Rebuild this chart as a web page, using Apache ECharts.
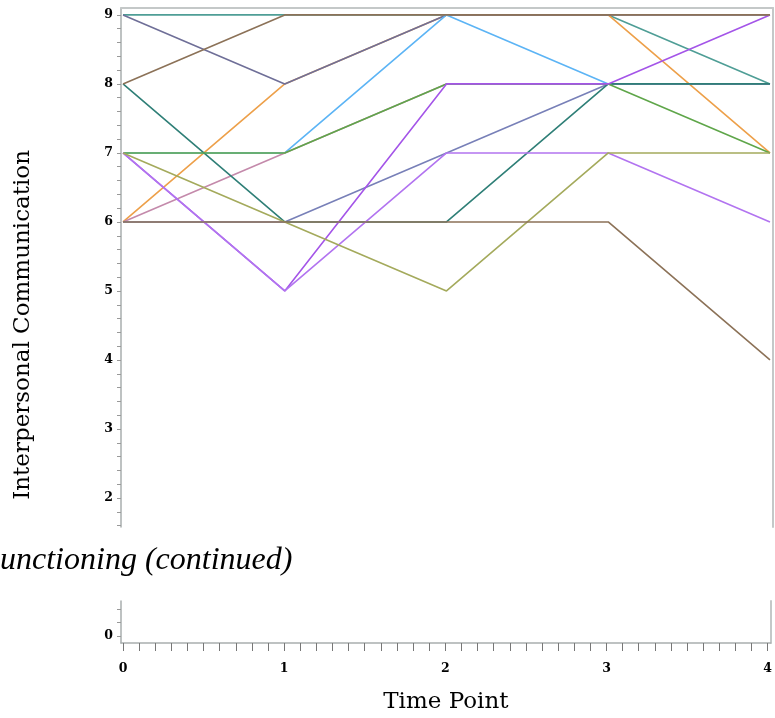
<!DOCTYPE html>
<html>
<head>
<meta charset="utf-8">
<script src="https://cdn.jsdelivr.net/npm/echarts@6/dist/echarts.min.js"></script>
<style>
html,body{margin:0;padding:0;background:#fff;}
#chart{width:775px;height:718px;}
</style>
</head>
<body>
<div id="chart"></div>
<script>
// Time points (x categories as numbers)
const timePoints = [0, 1, 2, 3, 4];
// Subject trajectories (Interpersonal Communication at each time point)
const subjTealA   = [9, 9, 9, 9, 8];
const subjOrange  = [6, 8, 9, 9, 7];
const subjSlateA  = [9, 8, 9, 9, 9];
const subjLtBlue  = [7, 7, 9, 8, 8];
const subjPink    = [6, 7, 8, 8, 8];
const subjSlateB  = [6, 6, 7, 8, 8];
const subjTealB   = [8, 6, 6, 8, 8];
const subjGreen   = [7, 7, 8, 8, 7];
const subjPurpleA = [7, 5, 8, 8, 9];
const subjPurpleB = [7, 5, 7, 7, 6];
const subjOlive   = [7, 6, 5, 7, 7];
const subjBrownB  = [6, 6, 6, 6, 4];
const subjBrownA  = [8, 9, 9, 9, 9];

// Tick labels
const xTickLabels = [0, 1, 2, 3, 4];
const yTickLabelsTop = [2, 3, 4, 5, 6, 7, 8, 9];
const yTickLabelsBottom = [0];

const subjects = [
  {d: subjTealA,   c: '#4f9e96'},
  {d: subjOrange,  c: '#eda04a'},
  {d: subjSlateA,  c: '#6f6f98'},
  {d: subjLtBlue,  c: '#5cb4f5'},
  {d: subjPink,    c: '#c48aab'},
  {d: subjSlateB,  c: '#7880b8'},
  {d: subjTealB,   c: '#2f7f77'},
  {d: subjGreen,   c: '#5fa64a'},
  {d: subjPurpleA, c: '#a455e8'},
  {d: subjPurpleB, c: '#b274f0'},
  {d: subjOlive,   c: '#a4aa5c'},
  {d: subjBrownB,  c: '#8c7258'},
  {d: subjBrownA,  c: '#8c7258'}
];

function steps(a, b, s) {
  const out = [];
  const n = Math.round((b - a) / s);
  for (let i = 0; i <= n; i++) out.push(+(a + i * s).toFixed(4));
  return out;
}
const yTicksTop = steps(1.6, 9.0, 0.2);
const yTicksBottom = steps(0, 0.4, 0.2);
const xTicksBottom = steps(0, 4, 0.1);

const axisGray = '#a9aeae';
const frameGray = '#c4c8c8';
const labelFont = {fontFamily: 'DejaVu Serif', fontWeight: 'bold', fontSize: 12.5, color: '#000'};

const xMin = -0.0124, xMax = 4.0186;

const option = {
  animation: false,
  backgroundColor: '#fff',
  grid: [
    {left: 121, top: 8, width: 652, height: 519},
    {left: 121, top: 601, width: 652, height: 42}
  ],
  xAxis: [
    {gridIndex: 0, type: 'value', position: 'top', min: xMin, max: xMax,
     axisLine: {show: true, onZero: false, lineStyle: {color: frameGray, width: 2}},
     axisTick: {show: false}, axisLabel: {show: false}, splitLine: {show: false}},
    {gridIndex: 1, type: 'value', position: 'bottom', min: xMin, max: xMax,
     name: 'Time Point', nameLocation: 'middle', nameGap: 48,
     nameTextStyle: {fontFamily: 'DejaVu Serif', fontSize: 23, color: '#000'},
     axisLine: {show: true, onZero: false, lineStyle: {color: axisGray, width: 1.5}},
     axisTick: {show: true, inside: false, length: 8, customValues: xTicksBottom, lineStyle: {color: '#777', width: 1}},
     axisLabel: Object.assign({show: true, margin: 19, customValues: xTickLabels}, labelFont),
     splitLine: {show: false}}
  ],
  yAxis: [
    {gridIndex: 0, type: 'value', position: 'left', min: 1.58, max: 9.1,
     axisLine: {show: true, onZero: false, lineStyle: {color: axisGray, width: 1.5}},
     axisTick: {show: true, length: 4, customValues: yTicksTop, lineStyle: {color: '#999', width: 1}},
     axisLabel: Object.assign({show: true, margin: 8, customValues: yTickLabelsTop}, labelFont),
     splitLine: {show: false}},
    {gridIndex: 0, type: 'value', position: 'right', min: 1.58, max: 9.1,
     axisLine: {show: true, onZero: false, lineStyle: {color: frameGray, width: 2}},
     axisTick: {show: false}, axisLabel: {show: false}, splitLine: {show: false}},
    {gridIndex: 1, type: 'value', position: 'left', min: -0.107, max: 0.52,
     axisLine: {show: true, onZero: false, lineStyle: {color: axisGray, width: 1.5}},
     axisTick: {show: true, length: 4, customValues: yTicksBottom, lineStyle: {color: '#999', width: 1}},
     axisLabel: Object.assign({show: true, margin: 8, customValues: yTickLabelsBottom}, labelFont),
     splitLine: {show: false}},
    {gridIndex: 1, type: 'value', position: 'right', min: -0.107, max: 0.52,
     axisLine: {show: true, onZero: false, lineStyle: {color: frameGray, width: 2}},
     axisTick: {show: false}, axisLabel: {show: false}, splitLine: {show: false}}
  ],
  graphic: [
    {type: 'text', left: 12, top: 150, rotation: Math.PI / 2,
     style: {text: 'Interpersonal Communication', fontFamily: 'DejaVu Serif', fontSize: 23, fill: '#000'}},
    {type: 'text', left: 0, top: 545,
     style: {text: 'unctioning (continued)', fontFamily: 'Liberation Serif', fontStyle: 'italic', fontSize: 32, fill: '#000'}}
  ],
  series: subjects.map((s, i) => ({
    type: 'line',
    xAxisIndex: 0, yAxisIndex: 0,
    data: timePoints.map((t, k) => [t, s.d[k]]),
    showSymbol: false, symbol: 'none',
    lineStyle: {color: s.c, width: 1.6},
    z: 2 + i * 0.01,
    silent: true
  }))
};

const chart = echarts.init(document.getElementById('chart'), null, {renderer: 'canvas'});
chart.setOption(option);
</script>
</body>
</html>
